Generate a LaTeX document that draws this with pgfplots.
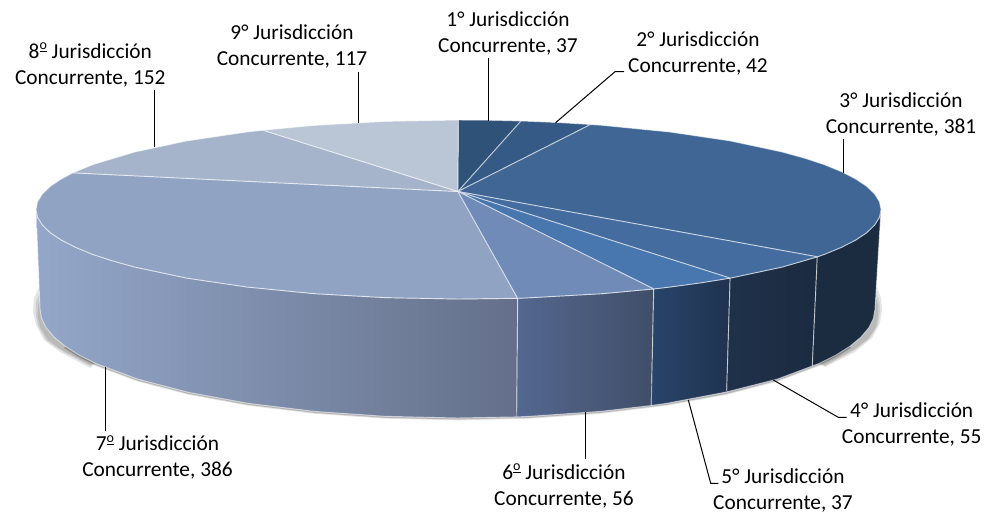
\documentclass[border=0pt]{standalone}
\usepackage{fontspec}
\setmainfont{Carlito}
\usepackage{pgfplots}
\pgfplotsset{compat=1.18}
\definecolor{t1}{HTML}{2F5378}
\definecolor{t2}{HTML}{355A85}
\definecolor{t3}{HTML}{3F6695}
\definecolor{t4}{HTML}{446C9E}
\definecolor{t5}{HTML}{4876AE}
\definecolor{t6}{HTML}{708BB8}
\definecolor{t7}{HTML}{90A3C3}
\definecolor{t8}{HTML}{A5B4CB}
\definecolor{t9}{HTML}{BAC6D6}
\definecolor{s1}{HTML}{94A7C9}
\definecolor{s1m}{HTML}{8394B3}
\definecolor{s2}{HTML}{64708A}
\definecolor{s3}{HTML}{54678F}
\definecolor{s4}{HTML}{404E68}
\definecolor{s5}{HTML}{29446A}
\definecolor{s6}{HTML}{1F334F}
\definecolor{s7}{HTML}{1F314A}
\definecolor{s8}{HTML}{1B2B40}
\pgfplotsset{
 wedge/.style={draw=white,draw opacity=0.55,line width=0.7pt,line join=round,mark=none},
 side/.style={draw=white,draw opacity=0.55,line width=0.7pt,line join=round,mark=none},
 lead/.style={draw=black,line width=0.75pt,mark=none},
 blob/.style={draw=none,fill=black,fill opacity=0.1,mark=none},
}
\newcommand{\lab}[3]{\node[align=center,text=black,inner sep=0pt,font=\fontsize{16}{19.5}\selectfont] at (axis cs:#1,#2) {#3};}
\newcommand{\ord}{\raisebox{0.85ex}{\fontsize{10.5}{11}\selectfont\underline{o}}}
\begin{document}
\begin{tikzpicture}
\path (0,0) rectangle (738pt,386.25pt);
\begin{axis}[at={(0,0)},anchor=south west,scale only axis,width=738pt,height=386.25pt,
  xmin=0,xmax=984,ymin=0,ymax=515,y dir=reverse,hide axis,clip=false]
% shadow
\addplot[blob] coordinates {(40,285)(34,298)(33,312)(36,325)(44,340)(60,352)(90,368)(100,360)(45,300)} -- cycle;
\addplot[blob] coordinates {(40,292)(36,302)(35.5,314)(38,326)(46,340)(60,350)(90,366)(100,360)(45,300)} -- cycle;
\addplot[blob] coordinates {(40,298)(38,306)(37.5,316)(40,327)(48,340)(62,350)(90,365)(100,360)(45,300)} -- cycle;
\addplot[blob] coordinates {(876,285)(881,298)(882,310)(880,323)(872,338)(855,352)(825,367)(810,360)(870,300)} -- cycle;
\addplot[blob] coordinates {(876,292)(879.5,302)(880,312)(878,325)(870,338)(855,350)(825,366)(810,360)(870,300)} -- cycle;
\addplot[blob] coordinates {(876,298)(878,306)(878,315)(876,327)(868,339)(853,350)(825,365)(810,360)(870,300)} -- cycle;
\addplot[draw=black,draw opacity=0.12,line width=3.5pt,line join=round,mark=none] coordinates {
(65.2,346.3)(79.1,355.1)(95.9,363.5)(137.7,379.1)(189.1,392.5)(248.7,403.4)(314.7,411.4)(385,416.3)(457.5,418)(530,416.3)(600.3,411.4)(666.3,403.4)(725.9,392.5)(777.3,379.1)(819.1,363.5)(835.9,355.1)(849.8,346.3)
};
\addplot[draw=black,draw opacity=0.2,line width=2.2pt,line join=round,mark=none] coordinates {
(65.2,346.3)(79.1,355.1)(95.9,363.5)(137.7,379.1)(189.1,392.5)(248.7,403.4)(314.7,411.4)(385,416.3)(457.5,418)(530,416.3)(600.3,411.4)(666.3,403.4)(725.9,392.5)(777.3,379.1)(819.1,363.5)(835.9,355.1)(849.8,346.3)
};
% side faces
\addplot[side,left color=s1,middle color=s1m,right color=s2] coordinates {
(36,209.5)(37.6,217.3)(42.4,225)(50.4,232.7)(61.5,240.1)(75.6,247.3)(92.6,254.3)(112.4,260.8)(134.8,267)(186.9,278.1)(247.2,287)(314,293.6)(385.1,297.6)(458.5,299)(517.7,298.3)
(516.7,416.9)(457.5,418)(385,416.3)(314.7,411.4)(248.7,403.4)(189.1,392.5)(137.7,379.1)(95.9,363.5)(79.1,355.1)(65.2,346.3)(54.2,337.2)(46.3,327.9)(41.6,318.5)(40,309)
} -- cycle;
\addplot[side,left color=s3,right color=s4] coordinates {
(517.7,298.3)(531.9,297.6)(603,293.6)(653.7,288.9)(651.3,405.5)(600.3,411.4)(530,416.3)(516.7,416.9)
} -- cycle;
\addplot[side,left color=s5,right color=s6] coordinates {
(653.7,288.9)(669.8,287)(700.8,282.8)(730.1,278.1)(726.7,391.9)(666.3,403.4)(651.3,405.5)
} -- cycle;
\addplot[side,left color=s7,right color=s8] coordinates {
(730.1,278.1)(782.2,267)(817.3,256.8)(812.3,366)(777.3,379.1)(726.7,391.9)
} -- cycle;
\addplot[side,fill=s8] coordinates {
(817.3,256.8)(824.4,254.3)(841.4,247.3)(855.5,240.1)(866.6,232.7)(874.6,225)(879.4,217.3)(881,209.5)
(875,309)(873.4,318.5)(868.7,327.9)(860.8,337.2)(849.8,346.3)(835.9,355.1)(819.1,363.5)(812.3,366)
} -- cycle;
% top wedges
\addplot[wedge,fill=t7] coordinates {
(458,191.5)(517.7,298.3)(458.5,299)(385.1,297.6)(314,293.6)(247.2,287)(186.9,278.1)(134.8,267)(112.4,260.8)(92.6,254.3)(75.6,247.3)(61.5,240.1)(50.4,232.7)(42.4,225)(37.6,217.3)(36,209.5)(37.6,201.7)(42.4,194)(50.4,186.3)(61.5,178.9)(73,172.8)
} -- cycle;
\addplot[wedge,fill=t8] coordinates {
(458,191.5)(73,172.8)(92.6,164.7)(134.8,152)(186.9,140.9)(247.2,132)(263,130.2)
} -- cycle;
\addplot[wedge,fill=t9] coordinates {
(458,191.5)(263,130.2)(314,125.4)(385.1,121.4)(458.5,120)
} -- cycle;
\addplot[wedge,fill=t1] coordinates {
(458,191.5)(458.5,120)(495.3,120.3)(521,121)
} -- cycle;
\addplot[wedge,fill=t2] coordinates {
(458,191.5)(521,121)(531.9,121.4)(560.7,122.7)(590.6,124.5)
} -- cycle;
\addplot[wedge,fill=t3] coordinates {
(458,191.5)(590.6,124.5)(603,125.4)(669.8,132)(730.1,140.9)(782.2,152)(804.6,158.2)(824.4,164.7)(841.4,171.7)(855.5,178.9)(866.6,186.3)(874.6,194)(879.4,201.7)(881,209.5)(879.4,217.3)(874.6,225)(866.6,232.7)(855.5,240.1)(841.4,247.3)(824.4,254.3)(817.3,256.8)
} -- cycle;
\addplot[wedge,fill=t4] coordinates {
(458,191.5)(817.3,256.8)(782.2,267)(730.1,278.1)
} -- cycle;
\addplot[wedge,fill=t5] coordinates {
(458,191.5)(730.1,278.1)(700.8,282.8)(669.8,287)(653.7,288.9)
} -- cycle;
\addplot[wedge,fill=t6] coordinates {
(458,191.5)(653.7,288.9)(603,293.6)(531.9,297.6)(517.7,298.3)
} -- cycle;
% leaders
\addplot[lead] coordinates {(488.7,58)(488.7,120.5)};
\addplot[lead] coordinates {(555.6,122.7)(615,71.7)(624,71.7)};
\addplot[lead] coordinates {(843.7,139)(843.7,173)};
\addplot[lead] coordinates {(773.3,380)(838.3,417.3)(846.7,417.3)};
\addplot[lead] coordinates {(688.3,400)(710.7,483.3)(718.3,483.3)};
\addplot[lead] coordinates {(585.3,412.3)(585.3,459.3)};
\addplot[lead] coordinates {(105.7,366.7)(105.7,430.7)};
\addplot[lead] coordinates {(154,90)(154,147.3)};
\addplot[lead] coordinates {(358.3,71.7)(358.3,123)};
% labels
\lab{508}{33}{1° Jurisdicción\\Concurrente, 37}
\lab{698}{53}{2° Jurisdicción\\Concurrente, 42}
\lab{901}{114.5}{3° Jurisdicción\\Concurrente, 381}
\lab{911.7}{424.5}{4° Jurisdicción\\Concurrente, 55}
\lab{783}{490}{5° Jurisdicción\\Concurrente, 37}
\lab{564}{486}{6\ord{} Jurisdicción\\Concurrente, 56}
\lab{157.5}{457.5}{7\ord{} Jurisdicción\\Concurrente, 386}
\lab{90.3}{64.7}{8\ord{} Jurisdicción\\Concurrente, 152}
\lab{292}{46}{9° Jurisdicción\\Concurrente, 117}
\end{axis}
\end{tikzpicture}
\end{document}
